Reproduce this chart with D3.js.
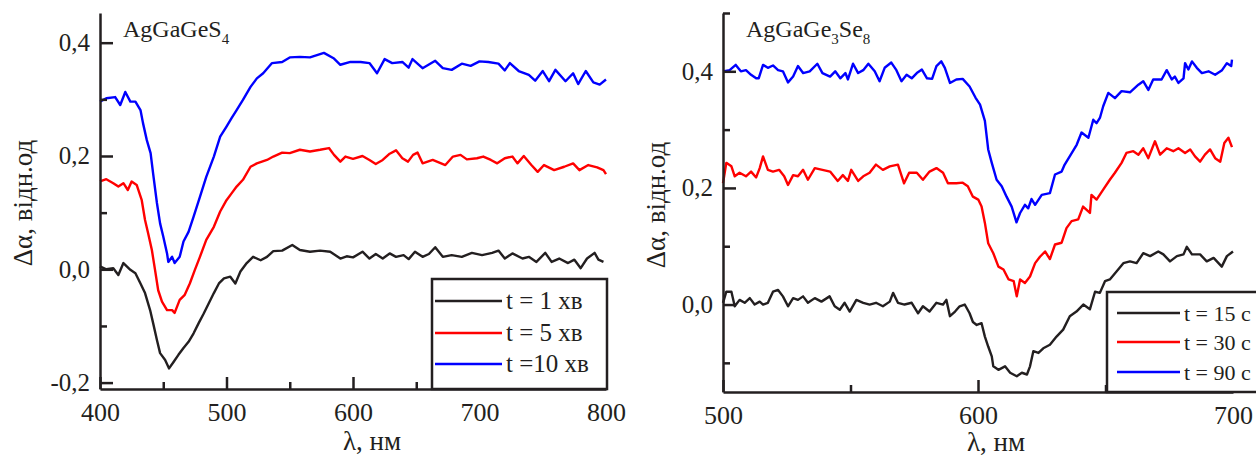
<!DOCTYPE html>
<meta charset="utf-8">
<style>
    body { margin: 0; background: #fff; }
    svg, svg text { font-family: "Liberation Serif", "Times New Roman", Times, serif; fill: #231f20; }
    .axis path, .axis line { stroke: #231f20; stroke-width: 2.5px; fill: none; }
    .curve { fill: none; stroke-width: 2.4px; stroke-linejoin: round; }
</style>
<svg width="1256" height="459"></svg>
<script src="https://d3js.org/d3.v7.min.js"></script>
<script>

    // AgGaGeS4, [wavelength nm, delta alpha]
    var sLabels = ["t = 1 хв", "t = 5 хв", "t =10 хв"];
    var s1min = [[400,0.005],[405,0.000],[410.5,0.002],[414.5,-0.010],[418.5,0.011],[424,-0.001],[428,-0.007],[432,-0.025],[435.6,-0.042],[439.6,-0.072],[442,-0.095],[445,-0.125],[447.5,-0.148],[451.5,-0.160],[454.6,-0.175],[458,-0.164],[462,-0.151],[466,-0.139],[470,-0.128],[474,-0.113],[478,-0.095],[482,-0.078],[486,-0.060],[490,-0.042],[494,-0.025],[498,-0.016],[503,-0.013],[507,-0.025],[511,-0.004],[516,0.011],[521,0.022],[527,0.016],[532,0.022],[537,0.032],[544,0.033],[552,0.043],[558,0.034],[566,0.031],[574,0.033],[582,0.031],[590,0.019],[595,0.023],[600,0.021],[607.5,0.031],[613,0.019],[618,0.027],[623.5,0.019],[629,0.028],[634,0.022],[640,0.025],[644,0.018],[649,0.031],[655,0.022],[660,0.027],[665,0.039],[671,0.022],[678,0.025],[686,0.022],[694,0.029],[702,0.025],[710,0.029],[715,0.033],[720,0.019],[726,0.028],[734,0.019],[739,0.022],[745,0.013],[752,0.029],[757,0.013],[763,0.019],[770,0.011],[775,0.017],[780,0.002],[785,0.019],[791,0.029],[794,0.017],[798,0.013]];
    var s5min = [[400,0.155],[405,0.159],[410.5,0.152],[414.5,0.146],[418.5,0.152],[422,0.140],[425,0.155],[429,0.149],[433,0.122],[435.6,0.087],[438,0.064],[441,0.034],[443.5,-0.001],[446,-0.037],[449,-0.057],[453,-0.072],[457,-0.072],[459,-0.077],[463,-0.054],[467,-0.045],[471,-0.025],[475,-0.001],[479,0.022],[484,0.052],[490,0.075],[495,0.102],[500,0.122],[504,0.134],[508,0.146],[513,0.158],[519,0.181],[524,0.187],[532,0.193],[537,0.199],[544,0.206],[550,0.205],[558,0.211],[566,0.208],[574,0.211],[581,0.214],[585,0.202],[590,0.190],[594,0.199],[600,0.195],[607.5,0.200],[613,0.193],[618,0.186],[623.5,0.193],[629,0.204],[634,0.210],[639,0.196],[643.5,0.190],[647.5,0.202],[651,0.206],[655,0.187],[663,0.193],[673,0.184],[679,0.199],[685,0.202],[690,0.194],[698,0.196],[703,0.199],[709,0.193],[714,0.187],[720,0.196],[726,0.199],[730,0.187],[735,0.200],[741,0.184],[746,0.172],[751,0.184],[759,0.175],[767,0.181],[774,0.187],[779,0.175],[786,0.184],[793,0.180],[798,0.175],[800,0.168]];
    var s10min = [[400,0.296],[405,0.302],[412,0.304],[416,0.290],[420,0.313],[424,0.296],[428,0.296],[432,0.281],[434,0.258],[437,0.228],[440,0.205],[442,0.169],[445,0.117],[447.5,0.081],[450,0.058],[453,0.028],[454,0.013],[457,0.022],[459,0.011],[463,0.022],[466,0.049],[470,0.066],[474,0.093],[479,0.128],[484,0.163],[490,0.199],[495,0.234],[500,0.252],[504,0.267],[508,0.281],[513,0.299],[519,0.322],[524,0.337],[529,0.346],[536,0.364],[544,0.366],[550,0.374],[558,0.375],[566,0.374],[577,0.382],[585,0.372],[590,0.361],[598,0.366],[606,0.366],[613,0.364],[619,0.346],[625,0.371],[631,0.364],[639,0.366],[644,0.356],[647,0.371],[655,0.355],[665,0.368],[671,0.355],[678,0.352],[686,0.363],[693,0.359],[700,0.367],[707,0.366],[715,0.363],[720,0.351],[724,0.364],[731,0.350],[739,0.343],[744,0.333],[750,0.350],[755,0.332],[760,0.352],[768,0.332],[774,0.346],[778,0.327],[784,0.350],[790,0.330],[795,0.326],[800,0.335]];

    // AgGaGe3Se8
    var seLabels = ["t = 15 с", "t = 30 с", "t = 90 с"];
    var se15s = [[500,0.003],[501.3,0.022],[503.3,0.022],[504.6,-0.003],[506.5,0.008],[508.5,0.003],[510.5,0.011],[512.4,0.000],[514.4,0.005],[515.7,0.000],[517.6,0.003],[519.6,0.022],[521.6,0.025],[523.5,0.014],[525.5,-0.003],[527.5,0.011],[529.4,0.008],[531.4,0.014],[533.3,0.003],[536,0.011],[538.6,0.005],[541.8,0.014],[543.8,-0.003],[545.8,-0.009],[547.7,0.003],[549.7,-0.012],[552.3,0.008],[555,0.003],[557.5,0.000],[560,0.003],[562.7,-0.003],[565.4,0.005],[566.7,0.020],[568.6,0.003],[571.2,0.000],[574,0.003],[576.5,-0.015],[578.4,-0.003],[581,-0.012],[583.7,0.003],[586.3,0.000],[587.6,0.008],[589,-0.020],[591,-0.012],[592.8,-0.003],[594.8,0.000],[596.7,-0.015],[598,-0.030],[599.5,-0.035],[601.4,-0.032],[602.7,-0.055],[604,-0.072],[605.4,-0.089],[606,-0.106],[608,-0.112],[610.6,-0.106],[612.6,-0.117],[615.2,-0.123],[617.2,-0.117],[619.2,-0.120],[620.4,-0.106],[621.7,-0.080],[623.7,-0.083],[625.6,-0.075],[628.2,-0.069],[630.8,-0.055],[633.4,-0.043],[636,-0.020],[638.6,-0.012],[641.3,0.000],[643.9,-0.008],[645.9,0.022],[647.8,0.020],[649.8,0.040],[651.7,0.043],[654.4,0.057],[657,0.071],[659.6,0.074],[662.2,0.071],[664.8,0.088],[667.5,0.083],[670.7,0.091],[672.7,0.086],[675.3,0.074],[678,0.083],[680.6,0.086],[681.9,0.099],[683.9,0.086],[687.1,0.086],[689.7,0.074],[692.4,0.080],[695.6,0.065],[697.6,0.083],[700,0.091]];
    var se30s = [[500,0.208],[501.3,0.243],[503.3,0.237],[504.6,0.220],[506.5,0.226],[509,0.220],[511,0.228],[513,0.218],[514.4,0.234],[515.7,0.254],[517.6,0.231],[519.6,0.228],[522,0.231],[524,0.220],[525.5,0.205],[527.5,0.222],[529.4,0.220],[531.4,0.231],[533.3,0.214],[536,0.234],[539,0.231],[542,0.228],[545,0.212],[547,0.222],[549,0.212],[550.3,0.231],[553,0.212],[555,0.220],[557.5,0.226],[560,0.240],[562.7,0.231],[565.4,0.237],[568.6,0.240],[571,0.208],[573,0.226],[576,0.226],[578.4,0.214],[581,0.228],[583.7,0.234],[586.3,0.226],[588.2,0.208],[591.5,0.208],[594,0.209],[596,0.203],[598,0.185],[600.1,0.180],[601.4,0.168],[602.7,0.140],[604,0.105],[606,0.088],[608,0.065],[610,0.060],[612,0.043],[614,0.040],[615.2,0.014],[616.5,0.043],[618.4,0.037],[620.4,0.048],[622.4,0.071],[624.3,0.082],[626.3,0.091],[628.2,0.078],[630.2,0.103],[632.8,0.106],[634.7,0.131],[636.7,0.143],[639.3,0.146],[641.2,0.168],[643.9,0.157],[644.5,0.188],[646.5,0.180],[649.1,0.197],[651.7,0.214],[653.7,0.226],[656.3,0.243],[658.2,0.260],[660.9,0.263],[662.9,0.257],[664.8,0.268],[666.8,0.251],[669.4,0.280],[671.4,0.257],[674,0.268],[676.6,0.263],[678.6,0.268],[681.2,0.260],[683.2,0.266],[685.1,0.254],[687.1,0.245],[689,0.257],[691,0.266],[693,0.251],[695,0.245],[696.6,0.277],[698.2,0.286],[699.6,0.270]];
    var se90s = [[500,0.400],[502.6,0.402],[505,0.411],[507,0.400],[509,0.402],[511,0.394],[513,0.388],[514,0.388],[515.7,0.411],[517.6,0.406],[519.6,0.410],[521.6,0.402],[523.5,0.400],[525.5,0.381],[527.5,0.391],[529.4,0.409],[531.4,0.397],[534,0.400],[537,0.413],[539,0.397],[542,0.391],[544,0.400],[546,0.388],[548,0.397],[549,0.386],[551,0.413],[553,0.397],[555,0.402],[557,0.413],[559.5,0.400],[561.4,0.383],[563.4,0.406],[566,0.415],[568,0.402],[570,0.383],[572,0.394],[574,0.388],[576,0.397],[578,0.403],[580,0.388],[582,0.387],[583.7,0.409],[585.6,0.417],[587,0.406],[589,0.380],[591.5,0.386],[594,0.387],[596.7,0.374],[599,0.355],[600.8,0.343],[602.7,0.315],[604,0.266],[605.4,0.243],[607.3,0.214],[609.3,0.203],[611.2,0.185],[613.2,0.168],[615.1,0.141],[616.5,0.157],[618.4,0.171],[619.7,0.165],[621,0.181],[622.4,0.171],[625,0.188],[628.2,0.191],[630.2,0.223],[632.8,0.228],[634,0.240],[636.8,0.260],[638.7,0.274],[640.6,0.295],[643.3,0.286],[645.2,0.317],[646.5,0.311],[647.8,0.320],[649.1,0.340],[651.1,0.363],[653.7,0.354],[656.3,0.366],[659.6,0.364],[662.9,0.377],[664.8,0.383],[666.8,0.368],[668.7,0.386],[672,0.386],[674,0.402],[676,0.386],[677.2,0.391],[678.6,0.380],[680.6,0.388],[681.2,0.414],[682.5,0.403],[683.9,0.417],[685.8,0.406],[687.8,0.397],[690.4,0.400],[693,0.394],[695.7,0.402],[697.6,0.414],[699.3,0.409],[699.6,0.420]];

    var leftXMajor = [400, 500, 600, 700, 800], leftXMinor = [450, 550, 650, 750];
    var leftYMajor = [-0.2, 0, 0.2, 0.4], leftYMinor = [-0.1, 0.1, 0.3];
    var rightXMajor = [500, 600, 700], rightXMinor = [550, 650];
    var rightYMajor = [0, 0.2, 0.4], rightYMinor = [-0.1, 0.1, 0.3, 0.5];

    var ink = "#231f20";
    var serif = '"Liberation Serif", "Times New Roman", Times, serif';
    var colors = [ink, "#ff0000", "#0000ff"];
    var svg = d3.select("svg").style("font-family", serif);
    var fmt = function (d) { return d3.format(".1f")(d).replace(".", ",").replace("−", "-"); };

    function panel(p) {
        var x = d3.scaleLinear().domain(p.xDomain).range([p.left, p.right]);
        var y = d3.scaleLinear().domain(p.yDomain).range([p.bottom, p.top]);
        var g = svg.append("g");
        var line = d3.line()
            .x(function (d) { return x(d[0]); })
            .y(function (d) { return y(d[1]); });

        g.selectAll(".curve")
            .data(p.series)
            .enter().append("path")
            .attr("class", "curve")
            .attr("stroke", function (d, i) { return colors[i]; })
            .attr("d", line);

        // ticks point inward
        var xa = g.append("g").attr("class", "axis")
            .attr("transform", "translate(0," + p.bottom + ")")
            .call(d3.axisBottom(x).tickValues(p.xMajor).tickSizeInner(-12).tickSizeOuter(0)
                .tickPadding(14).tickFormat(d3.format("d")));
        g.append("g").attr("class", "axis")
            .attr("transform", "translate(0," + p.bottom + ")")
            .call(d3.axisBottom(x).tickValues(p.xMinor).tickSize(-7).tickFormat(""))
            .select(".domain").remove();
        var ya = g.append("g").attr("class", "axis")
            .attr("transform", "translate(" + p.left + ",0)")
            .call(d3.axisLeft(y).tickValues(p.yMajor).tickSizeInner(-13).tickSizeOuter(0)
                .tickPadding(10).tickFormat(fmt));
        g.append("g").attr("class", "axis")
            .attr("transform", "translate(" + p.left + ",0)")
            .call(d3.axisLeft(y).tickValues(p.yMinor).tickSize(-7).tickFormat(""))
            .select(".domain").remove();
        xa.attr("font-family", serif).attr("font-size", null);
        ya.attr("font-family", serif).attr("font-size", null);
        xa.selectAll("text").style("font-size", "26px").style("font-family", serif);
        ya.selectAll("text").style("font-size", "25px").style("font-family", serif);

        // title with subscripts
        var t = g.append("text").attr("x", p.left + p.titleDx).attr("y", 37).style("font-size", "24px");
        p.title.forEach(function (part) {
            var sp = t.append("tspan").text(part[0]);
            if (part[1]) sp.attr("dy", 7).style("font-size", "15px");
            else sp.attr("dy", t.node().childNodes.length > 1 ? -7 : 0);
        });

        g.append("text")
            .attr("transform", "translate(" + p.yLabelX + "," + p.yLabelY + ") rotate(-90)")
            .attr("text-anchor", "middle")
            .style("font-size", "27px")
            .text("Δα, відн.од");
        g.append("text")
            .attr("x", p.xLabelX).attr("y", p.xLabelY)
            .style("font-size", "27px")
            .text("λ, нм");

        // legend
        var lg = g.append("g");
        lg.append("rect")
            .attr("x", p.legend.x).attr("y", p.legend.y)
            .attr("width", p.legend.w).attr("height", p.bottom - p.legend.y)
            .attr("fill", "#fff").attr("stroke", ink).attr("stroke-width", 2.5);
        p.labels.forEach(function (lab, i) {
            var ly = p.legend.rows[i];
            lg.append("line")
                .attr("x1", p.legend.x + p.legend.l0).attr("x2", p.legend.x + p.legend.l1)
                .attr("y1", ly).attr("y2", ly)
                .attr("stroke", colors[i]).attr("stroke-width", 2.4);
            lg.append("text")
                .attr("x", p.legend.x + p.legend.l1 + 4).attr("y", ly + 8)
                .style("font-size", p.legend.fs)
                .text(lab);
        });
    }

    panel({
        xDomain: [400, 800], yDomain: [-0.2113, 0.4524],
        left: 100, right: 606, top: 13, bottom: 389,
        series: [s1min, s5min, s10min], labels: sLabels,
        xMajor: leftXMajor, xMinor: leftXMinor, yMajor: leftYMajor, yMinor: leftYMinor,
        title: [["AgGaGeS"], ["4", true]], titleDx: 23,
        yLabelX: 32, yLabelY: 203, xLabelX: 343, xLabelY: 450,
        legend: {x: 432, y: 279, w: 175, l0: 3, l1: 70, rows: [301, 333, 364], fs: "25px"}
    });

    panel({
        xDomain: [500, 700], yDomain: [-0.15, 0.5],
        left: 723, right: 1233, top: 13, bottom: 392,
        series: [se15s, se30s, se90s], labels: seLabels,
        xMajor: rightXMajor, xMinor: rightXMinor, yMajor: rightYMajor, yMinor: rightYMinor,
        title: [["AgGaGe"], ["3", true], ["Se"], ["8", true]], titleDx: 23,
        yLabelX: 665, yLabelY: 205, xLabelX: 967, xLabelY: 451,
        legend: {x: 1107, y: 292, w: 170, l0: 10, l1: 73, rows: [313, 342, 372], fs: "22px"}
    });
</script>
